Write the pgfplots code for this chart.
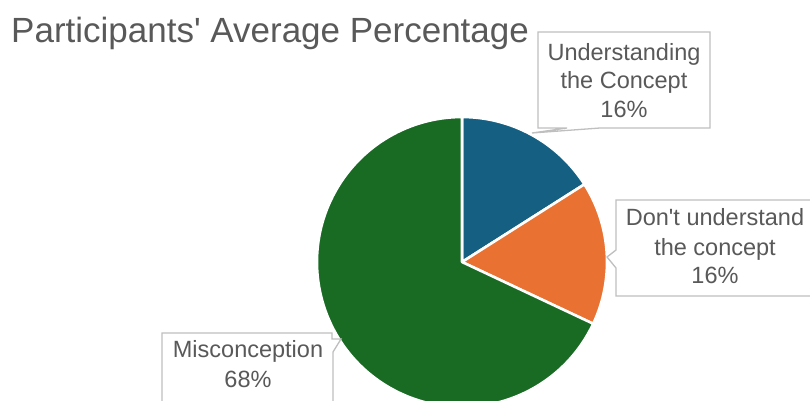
\documentclass[border=0pt]{standalone}
\usepackage{fontspec}
\setmainfont{Liberation Sans}
\usepackage{pgfplots}
\usepackage{pgfplotstable}
\pgfplotsset{compat=1.18}
\usepgfplotslibrary{polar}
\definecolor{cBlue}{HTML}{156082}
\definecolor{cOrange}{HTML}{E97132}
\definecolor{cGreen}{HTML}{196B24}
\definecolor{txt}{HTML}{595959}
\definecolor{brd}{HTML}{BFBFBF}

\pgfplotstableread{
pct
16
16
68
}\piedata

\pgfplotstablegetelem{0}{pct}\of\piedata \let\pA\pgfplotsretval
\pgfplotstablegetelem{1}{pct}\of\piedata \let\pB\pgfplotsretval
\pgfplotstablegetelem{2}{pct}\of\piedata \let\pC\pgfplotsretval
\pgfmathsetmacro\aO{90}
\pgfmathsetmacro\aA{\aO-3.6*\pA}
\pgfmathsetmacro\aB{\aA-3.6*\pB}
\pgfmathsetmacro\aC{\aB-3.6*\pC}

\begin{document}
\begin{tikzpicture}
\useasboundingbox (0,0) rectangle (810pt,400pt);
\clip (0,0) rectangle (810pt,400pt);
\begin{polaraxis}[
  at={(462pt,138pt)}, anchor=origin,
  width=290pt, height=290pt, scale only axis,
  xmin=0, xmax=360, ymin=0, ymax=1,
  hide axis, clip=false]
\addplot[fill=cBlue, draw=white, line width=2.6pt, line join=round] coordinates {(0,0) (\aO,1)} arc[start angle=\aO, end angle=\aA, radius=145pt] -- cycle;
\addplot[fill=cOrange, draw=white, line width=2.6pt, line join=round] coordinates {(0,0) (\aA,1)} arc[start angle=\aA, end angle=\aB, radius=145pt] -- cycle;
\addplot[fill=cGreen, draw=white, line width=2.6pt, line join=round] coordinates {(0,0) (\aB,1)} arc[start angle=\aB, end angle=\aC, radius=145pt] -- cycle;
\end{polaraxis}

% title
\node[anchor=base west, text=txt, inner sep=0pt, font=\fontsize{35}{41}\selectfont] at (11pt,357pt) {Participants\textquotesingle{} Average Percentage};

% callout boxes
\draw[brd, line width=1.3pt, fill=white, line join=miter]
  (538pt,368pt) -- (710pt,368pt) -- (710pt,272pt) -- (600pt,272pt) -- (532pt,267pt) -- (567pt,272pt) -- (538pt,272pt) -- cycle;
\draw[brd, line width=1.3pt, fill=white]
  (616pt,200pt) -- (815pt,200pt) -- (815pt,104pt) -- (616pt,104pt) -- (616pt,132pt) -- (607pt,143pt) -- (616pt,150pt) -- cycle;
\draw[brd, line width=1.3pt, fill=white]
  (162pt,67pt) -- (332pt,67pt) -- (332pt,61pt) -- (341pt,61pt) -- (333pt,48pt) -- (333pt,-5pt) -- (162pt,-5pt) -- cycle;

\tikzset{lab/.style={anchor=base, text=txt, inner sep=0pt, font=\fontsize{23.5}{28}\selectfont}}
\node[lab] at (624pt,340pt) {Understanding};
\node[lab] at (624pt,312pt) {the Concept};
\node[lab] at (624pt,283pt) {16\%};
\node[lab] at (715pt,175pt) {Don\textquotesingle{}t understand};
\node[lab] at (715pt,145pt) {the concept};
\node[lab] at (715pt,117pt) {16\%};
\node[lab] at (248pt,43pt) {Misconception};
\node[lab] at (248pt,13pt) {68\%};
\end{tikzpicture}
\end{document}
